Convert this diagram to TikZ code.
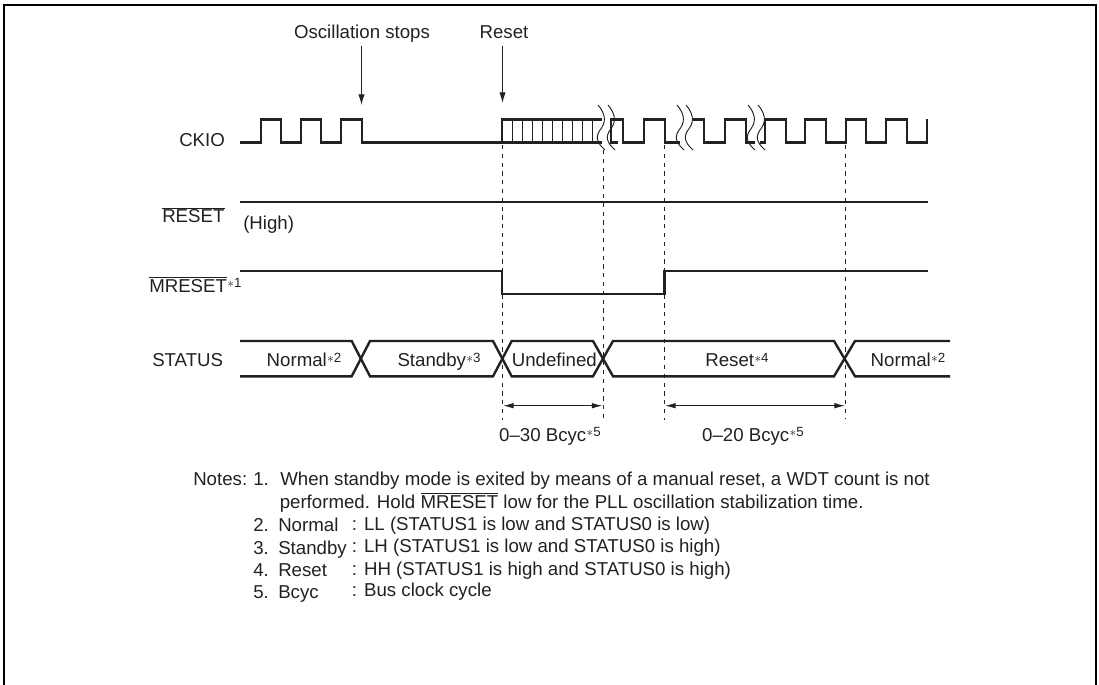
\documentclass[tikz,border=0pt]{standalone}
\usepackage{fontspec}
\setmainfont{Liberation Sans}
\usetikzlibrary{arrows.meta}
\definecolor{ink}{gray}{0.13}
\tikzset{
 x=0.75pt,y=-0.75pt,
 wave/.style={draw=ink,line width=1.8pt,line join=miter},
 thin wave/.style={draw=ink,line width=1.3pt},
 guide/.style={draw=ink,line width=0.8pt,dash pattern=on 3.2pt off 3.4pt},
 squig/.style={draw=ink,line width=0.7pt},
 arrowline/.style={draw=ink,line width=0.8pt,-{Latex[length=8pt,width=4.8pt]}},
 dimline/.style={draw=ink,line width=0.8pt,{Latex[length=8pt,width=4.2pt]}-{Latex[length=8pt,width=4.2pt]}},
 lab/.style={inner sep=0pt,anchor=base west,text=ink,font=\fontsize{14pt}{16pt}\selectfont},
 labc/.style={inner sep=0pt,anchor=base,text=ink,font=\fontsize{14pt}{16pt}\selectfont},
}
\newcommand{\starmark}[1]{\raisebox{3.2pt}{\fontsize{10pt}{10pt}\selectfont\kern0.3pt$*$#1}}
\newcommand{\ol}[1]{$\overline{\hbox{#1}}$}
\begin{document}
\begin{tikzpicture}
\useasboundingbox (0,0) rectangle (1099,685);
% frame
\draw[draw=black,line width=1.8pt] (4,685) -- (4,5) -- (1096,5) -- (1096,685);
% labels
\node[labc] (lOsc) at (362,39) {Oscillation stops};
\node[labc] (lRst) at (504,39) {Reset};
\coordinate (aOsc) at (361.5,46); \coordinate (aOscE) at (361.5,105);
\coordinate (aRst) at (502.5,46); \coordinate (aRstE) at (502.5,103);
\draw[arrowline] (aOsc) -- (aOscE);
\draw[arrowline] (aRst) -- (aRstE);
\node[lab] (nCK) at (179,146) {CKIO};
\node[lab] (nRS) at (162,222.7) {\ol{RESET}};
\node[lab] (nHi) at (243,229) {(High)};
\node[lab] (nMR) at (149,292) {\ol{MRESET}\starmark{1}};
\node[lab] (nST) at (152,366.5) {STATUS};
\node[labc] at (304,366.5) {Normal\starmark{2}};
\node[labc] at (439,366.5) {Standby\starmark{3}};
\node[lab] at (511.5,366.5) {Undefined};
\node[labc] at (737,366.5) {Reset\starmark{4}};
\node[labc] at (908,366.5) {Normal\starmark{2}};
\node[labc] at (550,441) {0–30 Bcyc\starmark{5}};
\node[labc] at (753,441) {0–20 Bcyc\starmark{5}};
% guides
\draw[guide] (502.5,145) -- (502.5,420);
\draw[guide] (603.5,150) -- (603.5,420);
\draw[guide] (664.5,145) -- (664.5,420);
\draw[guide] (845.5,145) -- (845.5,419);
% CKIO
\draw[wave] (240,142.3) -- (260.7,142.3) -- (260.7,119.3) -- (281,119.3) -- (281,142.3) -- (300.7,142.3) -- (300.7,119.3) -- (321,119.3) -- (321,142.3) -- (341,142.3) -- (341,119.3) -- (362,119.3) -- (362,142.3) -- (502,142.3) -- (502,119.3) -- (602,119.3);
\draw[wave] (502,142.3) -- (602,142.3);
\foreach \i in {512.5,522.5,...,593}{\draw[thin wave] (\i,119.3) -- (\i,142.3);}
\draw[wave] (618,142.3) -- (611,142.3) -- (611,119.3) -- (623,119.3) -- (623,142.3) -- (644,142.3) -- (644,119.3) -- (665,119.3) -- (665,142.3) -- (680,142.3);
\draw[wave] (693,119.3) -- (704,119.3) -- (704,142.3) -- (725,142.3) -- (725,119.3) -- (746,119.3) -- (746,142.3) -- (755,142.3);
\draw[wave] (760,142.3) -- (765,142.3) -- (765,119.3) -- (786,119.3) -- (786,142.3) -- (805,142.3) -- (805,119.3) -- (826,119.3) -- (826,142.3) -- (846,142.3) -- (846,119.3) -- (866,119.3) -- (866,142.3) -- (886,142.3) -- (886,119.3) -- (907,119.3) -- (907,142.3) -- (927,142.3) -- (927,119.3);
% squiggles
\foreach \xx in {598,608,677,686,748,758}{
 \draw[squig] (\xx,105) .. controls (\xx+6,112) and (\xx+9,120) .. (\xx+3.5,128) .. controls (\xx-3,136) and (\xx-2,142) .. (\xx+7,150);
}
% other signals
\draw[wave] (240,201.7) -- (928,201.7);
\draw[wave] (240,270.7) -- (502,270.7) -- (502,294) -- (664.3,294) -- (664.3,270.7) -- (928,270.7);
% status
\draw[wave] (240,341) -- (351.7,341) -- (370,376.3) -- (493,376.3) -- (511.7,341) -- (593,341) -- (613,376.3) -- (834,376.3) -- (855,341) -- (950,341);
\draw[wave] (240,376.3) -- (351.7,376.3) -- (370,341) -- (493,341) -- (511.7,376.3) -- (593,376.3) -- (613,341) -- (834,341) -- (855,376.3) -- (950,376.3);
% dims
\coordinate (d1) at (503,405.7); \coordinate (d2) at (602.5,405.7);
\coordinate (d3) at (665,405.7); \coordinate (d4) at (845,405.7);
\draw[dimline] (d1) -- (d2);
\draw[dimline] (d3) -- (d4);
% notes
\node[lab] at (193,485) {Notes:};
\node[lab] at (253,485) {1.};
\node[lab] at (280,485) {When standby mode is exited by means of a manual reset, a WDT count is not};
\node[lab] at (279.5,508.3) {performed. Hold \ol{MRESET} low for the PLL oscillation stabilization time.};
\node[lab] at (253,531) {2.};\node[lab] at (278,531) {Normal};\node[lab] at (351.7,530) {: LL (STATUS1 is low and STATUS0 is low)};
\node[lab] at (253,554) {3.};\node[lab] at (278,554) {Standby};\node[lab] at (351.7,552.7) {: LH (STATUS1 is low and STATUS0 is high)};
\node[lab] at (253,576.7) {4.};\node[lab] at (278,576.7) {Reset};\node[lab] at (351.7,575) {: HH (STATUS1 is high and STATUS0 is high)};
\node[lab] at (253,598) {5.};\node[lab] at (278,598) {Bcyc};\node[lab] at (351.7,596) {: Bus clock cycle};
\end{tikzpicture}
\end{document}
